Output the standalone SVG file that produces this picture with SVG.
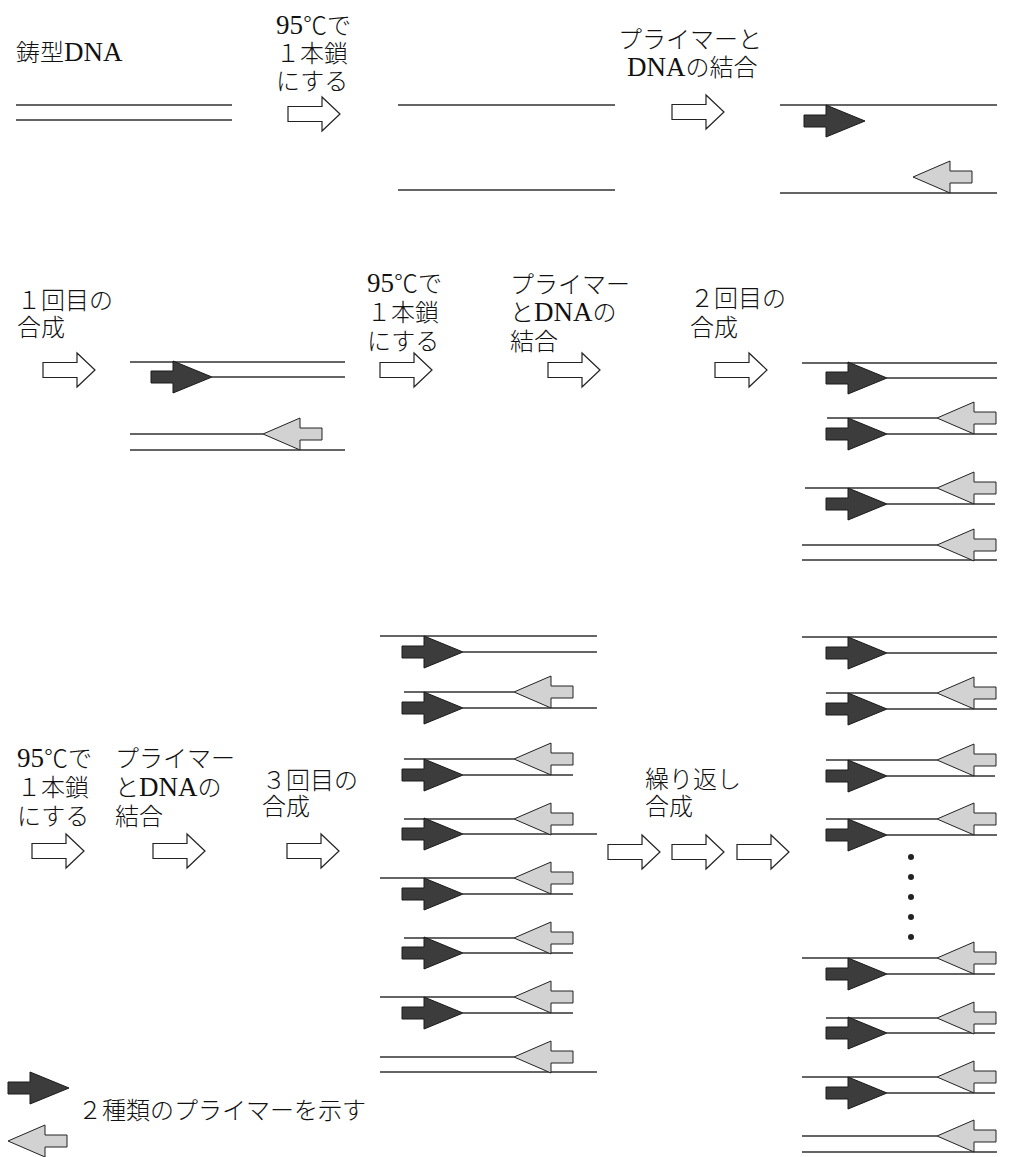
<svg xmlns="http://www.w3.org/2000/svg" xmlns:xlink="http://www.w3.org/1999/xlink" width="1015" height="1157" viewBox="0 0 1015 1157">
<style>
.t{font-family:"Liberation Serif","Noto Sans CJK JP",serif;font-size:24px;font-weight:300;fill:#111;}
.l{font-size:27px;font-weight:400;}
.s{stroke:#333;stroke-width:1.3;fill:none;}
.ho{fill:#fff;stroke:#222;stroke-width:1.2;}
.dk{fill:#3c3c3c;stroke:#1a1a1a;stroke-width:1;}
.lt{fill:#d2d2d2;stroke:#222;stroke-width:1;}
</style>
<defs>
<path id="ha" class="ho" d="M0,-7.5 H34 V-17 L52,0 L34,17 V7.5 H0 Z"/>
<path id="pd" class="dk" d="M-61,-6 H-39 V-16 L0,0 L-39,16 V6 H-61 Z"/>
<path id="pl" class="lt" d="M0,0 L37,-16 V-6 H59 V6 H37 V16 Z"/>
</defs>
<rect width="1015" height="1157" fill="#fff"/>

<g id="labels">
<text class="t" x="16" y="61">鋳型<tspan class="l">DNA</tspan></text>
<text class="t" x="276" y="34"><tspan class="l">95</tspan>℃で</text>
<text class="t" x="276" y="62">１本鎖</text>
<text class="t" x="276" y="90">にする</text>
<text class="t" x="618" y="48">プライマーと</text>
<text class="t" x="627" y="76"><tspan class="l">DNA</tspan>の結合</text>

<text class="t" x="17" y="309">１回目の</text>
<text class="t" x="17" y="336">合成</text>
<text class="t" x="367" y="292"><tspan class="l">95</tspan>℃で</text>
<text class="t" x="367" y="321">１本鎖</text>
<text class="t" x="367" y="350">にする</text>
<text class="t" x="510" y="293">プライマー</text>
<text class="t" x="510" y="321">と<tspan class="l">DNA</tspan>の</text>
<text class="t" x="510" y="350">結合</text>
<text class="t" x="690" y="307">２回目の</text>
<text class="t" x="690" y="336">合成</text>

<text class="t" x="17" y="767"><tspan class="l">95</tspan>℃で</text>
<text class="t" x="17" y="796">１本鎖</text>
<text class="t" x="17" y="825">にする</text>
<text class="t" x="115" y="767">プライマー</text>
<text class="t" x="115" y="796">と<tspan class="l">DNA</tspan>の</text>
<text class="t" x="115" y="825">結合</text>
<text class="t" x="262" y="789">３回目の</text>
<text class="t" x="262" y="815">合成</text>
<text class="t" x="645" y="788">繰り返し</text>
<text class="t" x="645" y="815">合成</text>

<text class="t" x="78" y="1119">２種類のプライマーを示す</text>
</g>

<g id="connectors">
<use xlink:href="#ha" x="288" y="114"/>
<use xlink:href="#ha" x="672" y="112"/>
<use xlink:href="#ha" x="43" y="370"/>
<use xlink:href="#ha" x="380" y="370"/>
<use xlink:href="#ha" x="548" y="370"/>
<use xlink:href="#ha" x="715" y="370"/>
<use xlink:href="#ha" x="32" y="851"/>
<use xlink:href="#ha" x="153" y="851"/>
<use xlink:href="#ha" x="287" y="851"/>
<use xlink:href="#ha" x="608" y="852"/>
<use xlink:href="#ha" x="672" y="852"/>
<use xlink:href="#ha" x="737" y="852"/>
</g>

<g id="template">
<path class="s" d="M16,105 H232 M16,120 H232"/>
</g>

<g id="denatured">
<path class="s" d="M398,105 H615 M398,190 H615"/>
</g>

<g id="annealed">
<path class="s" d="M780,105 H997 M780,193 H997"/>
<use xlink:href="#pd" x="865" y="121"/>
<use xlink:href="#pl" x="913" y="177"/>
</g>

<g id="cycle1">
<path class="s" d="M130,362 H345 M212,377 H345 M130,434 H263 M130,450 H345"/>
<use xlink:href="#pd" x="212" y="377"/>
<use xlink:href="#pl" x="263" y="434"/>
</g>

<g id="cycle2">
<path class="s" d="M802,363 H997 M887,378 H997 M827,418 H937 M887,434 H997 M805,488 H937 M887,504 H995 M802,545 H937 M802,560 H997"/>
<use xlink:href="#pd" x="887" y="378"/>
<use xlink:href="#pl" x="937" y="418"/>
<use xlink:href="#pd" x="887" y="434"/>
<use xlink:href="#pl" x="937" y="488"/>
<use xlink:href="#pd" x="887" y="504"/>
<use xlink:href="#pl" x="937" y="545"/>
</g>

<g id="cycle3">
<path class="s" d="M380,636 H597 M463,652 H597 M404,692 H514 M463,708 H597 M404,759 H514 M463,775 H573 M404,819 H514 M463,834 H597 M380,878 H514 M463,894 H573 M404,938 H514 M463,953 H573 M380,997 H514 M463,1013 H573 M380,1057 H514 M380,1072 H597"/>
<use xlink:href="#pd" x="463" y="652"/>
<use xlink:href="#pl" x="514" y="692"/>
<use xlink:href="#pd" x="463" y="708"/>
<use xlink:href="#pl" x="514" y="759"/>
<use xlink:href="#pd" x="463" y="775"/>
<use xlink:href="#pl" x="514" y="819"/>
<use xlink:href="#pd" x="463" y="834"/>
<use xlink:href="#pl" x="514" y="878"/>
<use xlink:href="#pd" x="463" y="894"/>
<use xlink:href="#pl" x="514" y="938"/>
<use xlink:href="#pd" x="463" y="953"/>
<use xlink:href="#pl" x="514" y="997"/>
<use xlink:href="#pd" x="463" y="1013"/>
<use xlink:href="#pl" x="514" y="1057"/>
</g>

<g id="repeated">
<path class="s" d="M802,637 H997 M887,653 H997 M826,693 H937 M887,709 H997 M826,760 H937 M887,776 H995 M826,819 H937 M887,835 H997 M802,958 H937 M887,974 H995 M826,1018 H937 M887,1033 H995 M802,1077 H937 M887,1093 H995 M802,1136 H937 M802,1152 H997"/>
<use xlink:href="#pd" x="887" y="653"/>
<use xlink:href="#pl" x="937" y="693"/>
<use xlink:href="#pd" x="887" y="709"/>
<use xlink:href="#pl" x="937" y="760"/>
<use xlink:href="#pd" x="887" y="776"/>
<use xlink:href="#pl" x="937" y="819"/>
<use xlink:href="#pd" x="887" y="835"/>
<g fill="#222">
<circle cx="911" cy="857" r="3"/>
<circle cx="911" cy="877" r="3"/>
<circle cx="911" cy="897" r="3"/>
<circle cx="911" cy="917" r="3"/>
<circle cx="911" cy="937" r="3"/>
</g>
<use xlink:href="#pl" x="937" y="958"/>
<use xlink:href="#pd" x="887" y="974"/>
<use xlink:href="#pl" x="937" y="1018"/>
<use xlink:href="#pd" x="887" y="1033"/>
<use xlink:href="#pl" x="937" y="1077"/>
<use xlink:href="#pd" x="887" y="1093"/>
<use xlink:href="#pl" x="937" y="1136"/>
</g>

<g id="legend">
<use xlink:href="#pd" x="69" y="1088"/>
<use xlink:href="#pl" x="8" y="1141"/>
</g>
</svg>
